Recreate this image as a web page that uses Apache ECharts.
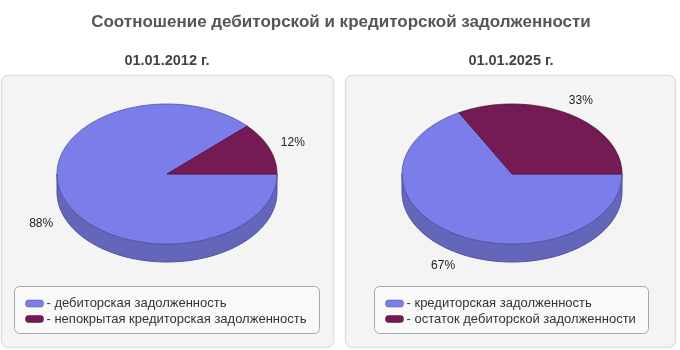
<!DOCTYPE html>
<html><head><meta charset="utf-8">
<script src="https://cdn.jsdelivr.net/npm/echarts@6/dist/echarts.min.js"></script>
<style>html,body{margin:0;padding:0;background:#fff}#c{width:680px;height:350px}</style>
</head><body><div id="c"></div>
<script>
const chartTitle = 'Соотношение дебиторской и кредиторской задолженности';
const dates = ['01.01.2012 г.', '01.01.2025 г.'];
const names2012 = ['дебиторская задолженность', 'непокрытая кредиторская задолженность'];
const values2012 = [88, 12];
const names2025 = ['кредиторская задолженность', 'остаток дебиторской задолженности'];
const values2025 = [67, 33];

const topColors = ['#7b7ee9', '#741b56'];
const sideColors = ['#6366b9', '#5a1442'];
const edgeColors = ['#4f52a3', '#4d1038'];
const FONT = '"Liberation Sans", Arial, sans-serif';

function pieSeries(values, cx, cy) {
  const rx = 110, ry = 70, depth = 18;
  const total = values.reduce((a, b) => a + b, 0);
  return {
    type: 'custom', coordinateSystem: 'none', silent: true, animation: false,
    data: values,
    renderItem(params, api) {
      const i = params.dataIndex;
      let before = 0;
      for (let k = 0; k < i; k++) before += values[k];
      const v = api.value(0);
      const a1 = 2 * Math.PI * (1 - (before + v) / total);
      const a2 = 2 * Math.PI * (1 - before / total);
      const pt = (a, dy) => [cx + Math.cos(a) * rx, cy - Math.sin(a) * ry + (dy || 0)];
      const children = [];
      const s1 = Math.max(a1, Math.PI), s2 = Math.min(a2, 2 * Math.PI);
      if (s2 > s1) {
        const n = 90, pts = [];
        for (let k = 0; k <= n; k++) pts.push(pt(s1 + (s2 - s1) * k / n));
        for (let k = n; k >= 0; k--) pts.push(pt(s1 + (s2 - s1) * k / n, depth));
        children.push({ type: 'polygon', shape: { points: pts }, z2: 1,
          style: { fill: sideColors[i], stroke: edgeColors[i], lineWidth: 1 } });
      }
      const n = 120, top = [[cx, cy]];
      for (let k = 0; k <= n; k++) top.push(pt(a1 + (a2 - a1) * k / n));
      children.push({ type: 'polygon', shape: { points: top }, z2: 10,
        style: { fill: topColors[i], stroke: edgeColors[i], lineWidth: 0.8 } });
      const mid = (a1 + a2) / 2;
      const lx = cx + Math.cos(mid) * rx * 1.23;
      const ly = cy - Math.sin(mid) * ry * 1.22 + (Math.sin(mid) < 0 ? depth : 0);
      children.push({ type: 'text', x: lx, y: ly, z2: 20,
        style: { text: Math.round(v / total * 100) + '%', fill: '#222', font: '12px ' + FONT,
          align: 'center', verticalAlign: 'middle', textAlign: 'center', textVerticalAlign: 'middle' } });
      return { type: 'group', children };
    }
  };
}

function legendGraphics(names, x, y, w) {
  const els = [{ type: 'rect', z: 5, shape: { x: x, y: y, width: w, height: 47, r: 5 },
    style: { fill: '#f9f9f9', stroke: '#a8a8a8', lineWidth: 1 } }];
  names.forEach((nm, i) => {
    const ry = y + 17 + i * 15.5;
    els.push({ type: 'rect', z: 6, shape: { x: x + 11, y: ry - 3.5, width: 18, height: 7, r: 3 },
      style: { fill: topColors[i], stroke: edgeColors[i], lineWidth: 0.5 } });
    els.push({ type: 'text', z: 6, x: x + 32, y: ry,
      style: { text: '- ' + nm, fill: '#333', font: '13px ' + FONT,
        align: 'left', verticalAlign: 'middle', textAlign: 'left', textVerticalAlign: 'middle' } });
  });
  return els;
}

const chart = echarts.init(document.getElementById('c'));
const graphics = [
  { type: 'rect', z: -1, shape: { x: 1.5, y: 75.5, width: 332, height: 272, r: 7 },
    style: { fill: '#f4f4f4', stroke: '#e0e0e0', lineWidth: 1.5 } },
  { type: 'rect', z: -1, shape: { x: 345.5, y: 75.5, width: 330, height: 272, r: 7 },
    style: { fill: '#f4f4f4', stroke: '#e0e0e0', lineWidth: 1.5 } },
  { type: 'text', x: 341, y: 22, style: { text: chartTitle, fill: '#555', font: 'bold 17px ' + FONT,
    align: 'center', verticalAlign: 'middle', textAlign: 'center', textVerticalAlign: 'middle' } },
  { type: 'text', x: 167, y: 61, style: { text: dates[0], fill: '#444', font: 'bold 14.5px ' + FONT,
    align: 'center', verticalAlign: 'middle', textAlign: 'center', textVerticalAlign: 'middle' } },
  { type: 'text', x: 511, y: 61, style: { text: dates[1], fill: '#444', font: 'bold 14.5px ' + FONT,
    align: 'center', verticalAlign: 'middle', textAlign: 'center', textVerticalAlign: 'middle' } }
].concat(legendGraphics(names2012, 14.5, 286.5, 305))
 .concat(legendGraphics(names2025, 374.5, 286.5, 274));

chart.setOption({
  animation: false,
  graphic: { elements: graphics },
  series: [pieSeries(values2012, 167, 174), pieSeries(values2025, 512, 174)]
});
</script></body></html>
